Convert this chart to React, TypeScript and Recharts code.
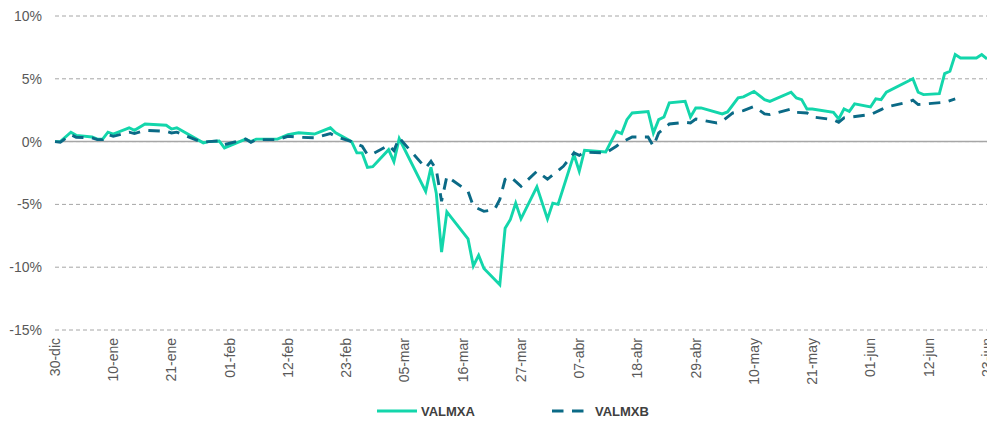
import React from 'react';
import {
  LineChart,
  Line,
  XAxis,
  YAxis,
  CartesianGrid,
  ReferenceLine,
  Legend,
} from 'recharts';

// days counted from 30-dic
const tickDays = [0, 11, 22, 33, 44, 55, 66, 77, 88, 99, 110, 121, 132, 143, 154, 165, 176];
const tickLabels = [
  '30-dic', '10-ene', '21-ene', '01-feb', '12-feb', '23-feb', '05-mar', '16-mar', '27-mar',
  '07-abr', '18-abr', '29-abr', '10-may', '21-may', '01-jun', '12-jun', '23-jun',
];
const yTicks = [-15, -10, -5, 0, 5, 10];

const valmxaDays = [
  0, 1, 3, 4, 7, 8, 9, 10, 11, 14, 15, 17, 21, 22, 23, 28, 29, 31, 32, 36, 37, 38,
  42, 44, 46, 49, 52, 53, 56, 57, 58, 59, 60, 63, 64, 65, 70, 71, 72, 73, 74,
  78, 79, 80, 81, 84, 85, 86, 87, 88, 91, 93, 94, 95, 98, 99, 100,
  104, 106, 107, 108, 109, 112, 113, 114, 115, 116, 119, 120, 121, 122,
  126, 127, 129, 130, 132, 134, 135, 139, 140, 141, 142, 143, 147, 148, 149, 150, 151,
  154, 155, 156, 157, 162, 163, 164, 167, 168, 169, 170, 171, 174, 175, 176,
];
const valmxa = [
  0, 0, 0.75, 0.5, 0.37, 0.2, 0.2, 0.75, 0.6, 1.1, 0.9, 1.4, 1.3, 1.0, 1.1, -0.1, 0, 0.05, -0.5, 0.2, 0, 0.2,
  0.2, 0.55, 0.7, 0.6, 1.1, 0.7, 0, -0.9, -0.9, -2.05, -2.0, -0.64, -1.6, 0.24, -3.96, -2.05, -4.1, -8.8, -5.6,
  -7.75, -9.9, -9.05, -10.1, -11.4, -6.9, -6.2, -4.9, -6.15, -3.6, -6.15, -4.9, -5.0, -1.03, -2.36, -0.69,
  -0.82, 0.82, 0.64, 1.75, 2.28, 2.4, 0.69, 1.75, 1.96, 3.08, 3.2, 1.96, 2.68, 2.68,
  2.2, 2.36, 3.48, 3.56, 4.0, 3.34, 3.2, 3.93, 3.48, 3.34, 2.6, 2.6, 2.33, 1.8, 2.6, 2.4, 3.0,
  2.76, 3.4, 3.34, 3.93, 5.0, 3.93, 3.74, 3.82, 5.41, 5.6, 6.93, 6.66, 6.66, 6.93, 6.58,
];

const valmxbDays = [
  0, 1, 3, 4, 7, 8, 9, 10, 11, 14, 15, 17, 21, 22, 23, 27, 28, 29, 31, 32, 36, 37, 38,
  42, 44, 46, 49, 52, 53, 56, 58, 59, 60, 63, 64, 65, 70, 71, 72, 73, 74,
  78, 79, 81, 83, 84, 85, 86, 88, 91, 93, 96, 98, 99, 100,
  104, 106, 107, 109, 112, 113, 114, 116, 119, 120, 121,
  125, 126, 128, 130, 132, 134, 135, 139, 140, 142, 143, 147, 148, 149,
  154, 156, 157, 161, 162, 163, 168, 170,
];
const valmxb = [
  0, -0.05, 0.55, 0.35, 0.3, 0.16, 0.16, 0.55, 0.42, 0.75, 0.64, 0.9, 0.82, 0.69, 0.75, 0.08, -0.05, 0, 0.05, -0.24, 0.2, -0.05, 0.16,
  0.16, 0.42, 0.35, 0.3, 0.64, 0.42, 0, -0.37, -1.03, -0.98, -0.3, -0.72, 0.3, -2.1, -1.57, -2.23, -4.75, -2.76,
  -3.96, -5.15, -5.55, -5.41, -4.6, -3.0, -2.8, -3.56, -2.36, -3.0, -1.97, -0.9, -1.1, -0.85,
  -0.9, -0.37, -0.05, 0.37, 0.37, -0.37, 0.69, 1.4, 1.54, 1.49, 1.8,
  1.49, 1.62, 2.28, 2.47, 2.8, 2.2, 2.15, 2.6, 2.33, 2.28, 1.96, 1.75, 1.54, 1.89,
  2.15, 2.55, 2.76, 3.13, 3.3, 2.95, 3.13, 3.4,
];

const seriesA = valmxaDays.map((day, i) => ({ day, value: valmxa[i] }));
const seriesB = valmxbDays.map((day, i) => ({ day, value: valmxb[i] }));

const COLOR_A = '#13D6AB';
const COLOR_B = '#0B6A86';
const FONT = '"Liberation Sans", Arial, sans-serif';

interface TickProps {
  x?: number;
  y?: number;
  payload?: { value: number };
}

function DateTick({ x = 0, y = 0, payload }: TickProps) {
  const idx = tickDays.indexOf(payload?.value ?? -1);
  return (
    <text
      x={x}
      y={y}
      dy="0.35em"
      transform={`rotate(-90 ${x} ${y})`}
      textAnchor="end"
      fontSize={14}
      fontFamily={FONT}
      fill="#595959"
    >
      {idx >= 0 ? tickLabels[idx] : ''}
    </text>
  );
}

function ChartLegend() {
  return (
    <svg width={987} height={20}>
      <line x1={377} y1={10} x2={417} y2={10} stroke={COLOR_A} strokeWidth={3} />
      <text x={421} y={14.5} fontSize={13} fontWeight="bold" fontFamily={FONT} fill="#404040">
        VALMXA
      </text>
      <line x1={552} y1={10} x2={584} y2={10} stroke={COLOR_B} strokeWidth={3} strokeDasharray="11.5 8.5" />
      <text x={595} y={14.5} fontSize={13} fontWeight="bold" fontFamily={FONT} fill="#404040">
        VALMXB
      </text>
    </svg>
  );
}

export default function App() {
  return (
    <div style={{ position: 'absolute', left: 0, top: 0, background: '#fff' }}>
      <LineChart width={987} height={422} margin={{ top: 16, right: 0, left: 0, bottom: 0 }}>
        <CartesianGrid vertical={false} stroke="#A6A6A6" strokeDasharray="4 3" />
        <XAxis
          type="number"
          dataKey="day"
          domain={[0, 176]}
          ticks={tickDays}
          interval={0}
          height={92}
          axisLine={false}
          tickLine={false}
          tickMargin={2}
          tick={<DateTick />}
          allowDuplicatedCategory={false}
        />
        <YAxis
          type="number"
          domain={[-15, 10]}
          ticks={yTicks}
          width={55}
          axisLine={false}
          tickLine={false}
          tickMargin={7}
          tickFormatter={(v: number) => `${v}%`}
          tick={{ fontSize: 14, fill: '#595959', fontFamily: FONT }}
        />
        <ReferenceLine y={0} stroke="#A6A6A6" strokeWidth={1.5} />
        <Legend
          layout="horizontal"
          verticalAlign="middle"
          align="center"
          wrapperStyle={{ top: 401, left: 0, width: 987 }}
          content={<ChartLegend />}
        />
        <Line
          data={seriesA}
          dataKey="value"
          name="VALMXA"
          type="linear"
          stroke={COLOR_A}
          strokeWidth={2.9}
          dot={false}
          activeDot={false}
          isAnimationActive={false}
        />
        <Line
          data={seriesB}
          dataKey="value"
          name="VALMXB"
          type="linear"
          stroke={COLOR_B}
          strokeWidth={2.9}
          strokeDasharray="11.5 8.5"
          dot={false}
          activeDot={false}
          isAnimationActive={false}
        />
      </LineChart>
    </div>
  );
}
